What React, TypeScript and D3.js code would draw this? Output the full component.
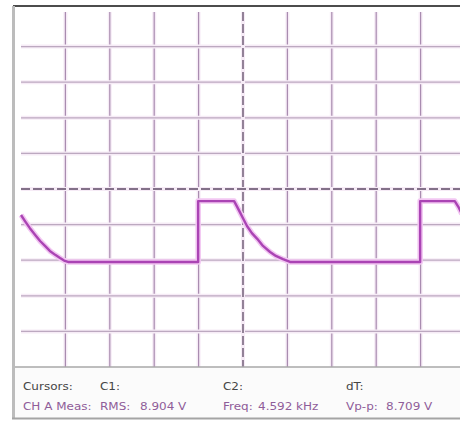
import { useMemo } from 'react'
import * as d3 from 'd3'

// trace, in divisions (x: time div, y: volts div, 0 = centre)
const traceT = [0, 0.09, 0.2, 0.32, 0.43, 0.54, 0.65, 0.77, 0.88, 0.97, 1.06, 3.99, 3.99, 4.8, 4.86, 4.93, 5.02, 5.09, 5.2, 5.32, 5.45, 5.61, 5.74, 5.9, 6.06, 8.99, 8.99, 9.77, 9.85, 9.93]
const traceV = [-0.73, -0.9, -1.1, -1.29, -1.46, -1.6, -1.74, -1.85, -1.94, -2.01, -2.05, -2.05, -0.34, -0.34, -0.48, -0.65, -0.87, -1.04, -1.24, -1.4, -1.6, -1.77, -1.88, -1.97, -2.05, -2.05, -0.34, -0.34, -0.5, -0.7]

const xDivs = d3.range(0, 11)
const yDivs = d3.range(-5, 6)

const row1 = ['Cursors:', 'C1:', 'C2:', 'dT:']
const row2Labels = ['CH A Meas:', 'RMS:', 'Freq:', 'Vp-p:']
const row2Values = ['', '8.904 V', '4.592 kHz', '8.709 V']

const W = 460
const H = 421
const plot = { left: 21, right: 465, top: 11, bottom: 367 }
const colX = [23, 100, 223, 346]
const valOffset = [0, 40, 35, 40]
const STRETCH = 1.2

export default function App() {
  const x = useMemo(() => d3.scaleLinear().domain([0, 10]).range([plot.left, plot.right]), [])
  const y = useMemo(() => d3.scaleLinear().domain([-5, 5]).range([plot.bottom, plot.top]), [])

  const pts = traceT.map((t, i) => [t, traceV[i]] as [number, number])
  const path = d3.line<[number, number]>().x(d => x(d[0])).y(d => y(d[1]))(pts) || ''

  const gridCol = '#a98cb0'
  const haloCol = '#f6ebf6'

  const txt = (s: string, px: number, py: number, fill: string, key: string) => (
    <text key={key} transform={`translate(${px},${py}) scale(${STRETCH},1)`} fill={fill}
      fontFamily="DejaVu Sans, sans-serif" fontSize={10}>{s}</text>
  )

  return (
    <svg width={W} height={H} style={{ position: 'absolute', left: 0, top: 0, background: '#fff' }}>
      <rect x={0} y={0} width={W} height={H} fill="#fff" />
      {/* bottom panel */}
      <rect x={15} y={plot.bottom} width={W - 15} height={418 - plot.bottom} fill="#fbfbfb" />

      {/* vertical grid */}
      {xDivs.filter(d => d > 0 && d < 10 && d !== 5).map(d => (
        <g key={'vx' + d}>
          <line x1={x(d)} x2={x(d)} y1={plot.top + 1} y2={plot.bottom} stroke={haloCol} strokeWidth={4} />
          <line x1={x(d)} x2={x(d)} y1={plot.top + 1} y2={plot.bottom} stroke={gridCol} strokeWidth={1.2} />
        </g>
      ))}
      {/* horizontal grid */}
      {yDivs.filter(d => d > -5 && d < 5 && d !== 0).map(d => (
        <g key={'hy' + d}>
          <line x1={plot.left} x2={W} y1={y(d)} y2={y(d)} stroke={haloCol} strokeWidth={4} />
          <line x1={plot.left} x2={W} y1={y(d)} y2={y(d)} stroke="#bca9c0" strokeWidth={1.3} />
        </g>
      ))}
      {/* centre dashed axes */}
      <line x1={x(5)} x2={x(5)} y1={plot.top + 1} y2={plot.bottom} stroke={haloCol} strokeWidth={4} />
      <line x1={x(5)} x2={x(5)} y1={plot.top + 1} y2={plot.bottom} stroke="#5e4a66" strokeWidth={1.3} strokeDasharray="9,3" />
      <line x1={plot.left} x2={W} y1={y(0)} y2={y(0)} stroke={haloCol} strokeWidth={4} />
      <line x1={plot.left} x2={W} y1={y(0)} y2={y(0)} stroke="#5e4a66" strokeWidth={1.3} strokeDasharray="9,3" />

      {/* trace */}
      <path d={path} fill="none" stroke="#f2c6f2" strokeWidth={5.5} strokeLinejoin="round" />
      <path d={path} fill="none" stroke="#aa44b4" strokeWidth={2.4} strokeLinejoin="round" />

      {/* frame */}
      <line x1={13} x2={W} y1={6} y2={6} stroke="#111" strokeWidth={1.6} />
      <line x1={15} x2={W} y1={plot.bottom} y2={plot.bottom} stroke="#a9a9a9" strokeWidth={1.5} />
      <rect x={12} y={6} width={3} height={413} fill="#bcbcbc" />
      <line x1={12} x2={W} y1={418.5} y2={418.5} stroke="#a4a4a4" strokeWidth={2} />

      {/* readouts */}
      {row1.map((s, i) => txt(s, colX[i], 390, '#454545', 'r1' + i))}
      {row2Labels.map((s, i) => txt(s, colX[i], 410, '#8f5d99', 'r2l' + i))}
      {row2Values.map((s, i) => s ? txt(s, colX[i] + valOffset[i], 410, '#8f5d99', 'r2v' + i) : null)}
    </svg>
  )
}
